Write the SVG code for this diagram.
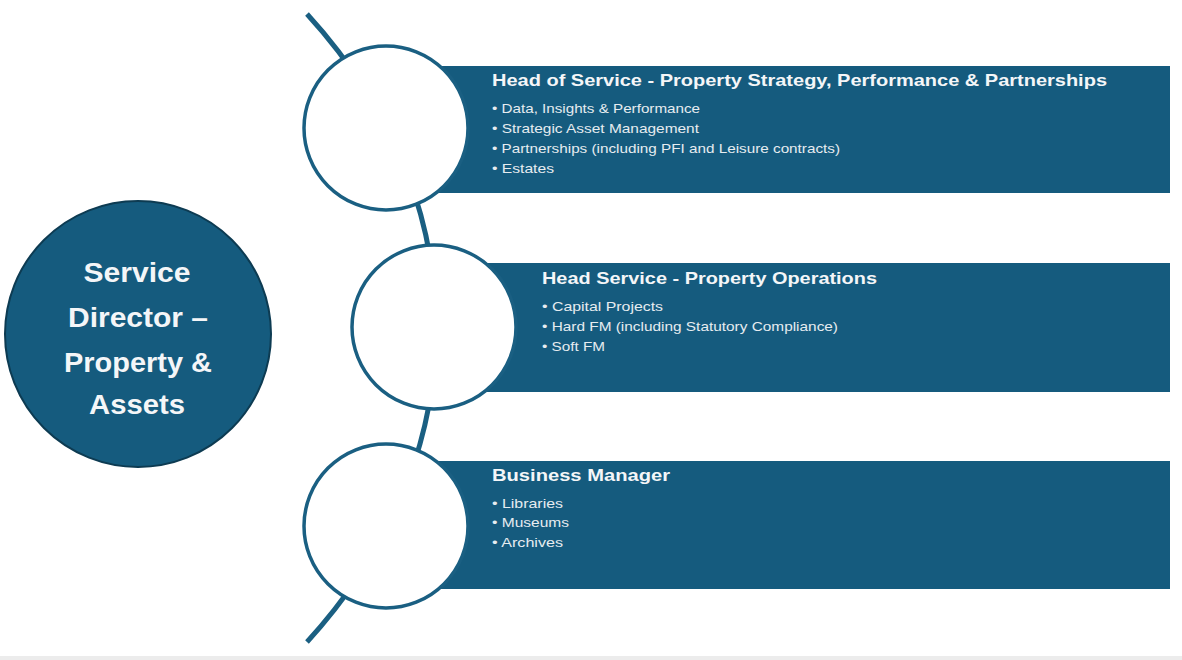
<svg xmlns="http://www.w3.org/2000/svg" width="1182" height="660" viewBox="0 0 1182 660">
<style>
.band{fill:#155b7e}
.ring{fill:#ffffff;stroke:#1a5f82;stroke-width:3.5}
.title{font-family:"Liberation Sans",Arial,sans-serif;font-weight:bold;fill:#f4f6f8;font-size:17px}
.item{font-family:"Liberation Sans",Arial,sans-serif;fill:#e6ecf0;font-size:13px}
.big{font-family:"Liberation Sans",Arial,sans-serif;font-weight:bold;fill:#f4f6f8;font-size:28px;text-anchor:middle}
</style>
<rect width="1182" height="660" fill="#ffffff"/>
<rect x="0" y="656" width="1182" height="4" fill="#ececec"/>
<g id="connectors">
<path d="M307,14 C402,118 436,230 436,328 C436,426 402,538 307,642" fill="none" stroke="#1a5f82" stroke-width="5"/>
</g>
<g id="director">
<circle cx="138" cy="334" r="133" fill="#155b7e" stroke="#0d3b52" stroke-width="2"/>
<text class="big" x="137" y="282" textLength="107" lengthAdjust="spacingAndGlyphs">Service</text>
<text class="big" x="138" y="327" textLength="140" lengthAdjust="spacingAndGlyphs">Director –</text>
<text class="big" x="138" y="372" textLength="148" lengthAdjust="spacingAndGlyphs">Property &amp;</text>
<text class="big" x="137" y="414" textLength="96" lengthAdjust="spacingAndGlyphs">Assets</text>
</g>
<g id="node1">
<rect class="band" x="420" y="66" width="750" height="127"/>
<circle class="ring" cx="386" cy="128" r="82"/>
<text class="title" x="492" y="86" textLength="615" lengthAdjust="spacingAndGlyphs">Head of Service - Property Strategy, Performance &amp; Partnerships</text>
<text class="item" x="492" y="113" textLength="208" lengthAdjust="spacingAndGlyphs">• Data, Insights &amp; Performance</text>
<text class="item" x="492" y="133" textLength="207" lengthAdjust="spacingAndGlyphs">• Strategic Asset Management</text>
<text class="item" x="492" y="153" textLength="348" lengthAdjust="spacingAndGlyphs">• Partnerships (including  PFI and Leisure contracts)</text>
<text class="item" x="492" y="173" textLength="62" lengthAdjust="spacingAndGlyphs">• Estates</text>
</g>
<g id="node2">
<rect class="band" x="470" y="263" width="700" height="129"/>
<circle class="ring" cx="434" cy="327" r="82"/>
<text class="title" x="542" y="284" textLength="335" lengthAdjust="spacingAndGlyphs">Head Service - Property Operations</text>
<text class="item" x="542" y="311" textLength="121" lengthAdjust="spacingAndGlyphs">• Capital Projects</text>
<text class="item" x="542" y="331" textLength="296" lengthAdjust="spacingAndGlyphs">• Hard FM (including  Statutory Compliance)</text>
<text class="item" x="542" y="351" textLength="63" lengthAdjust="spacingAndGlyphs">• Soft FM</text>
</g>
<g id="node3">
<rect class="band" x="420" y="461" width="750" height="128"/>
<circle class="ring" cx="386" cy="526" r="82"/>
<text class="title" x="492" y="481" textLength="178" lengthAdjust="spacingAndGlyphs">Business Manager</text>
<text class="item" x="492" y="508" textLength="71" lengthAdjust="spacingAndGlyphs">• Libraries</text>
<text class="item" x="492" y="527" textLength="77" lengthAdjust="spacingAndGlyphs">• Museums</text>
<text class="item" x="492" y="547" textLength="71" lengthAdjust="spacingAndGlyphs">• Archives</text>
</g>
</svg>
